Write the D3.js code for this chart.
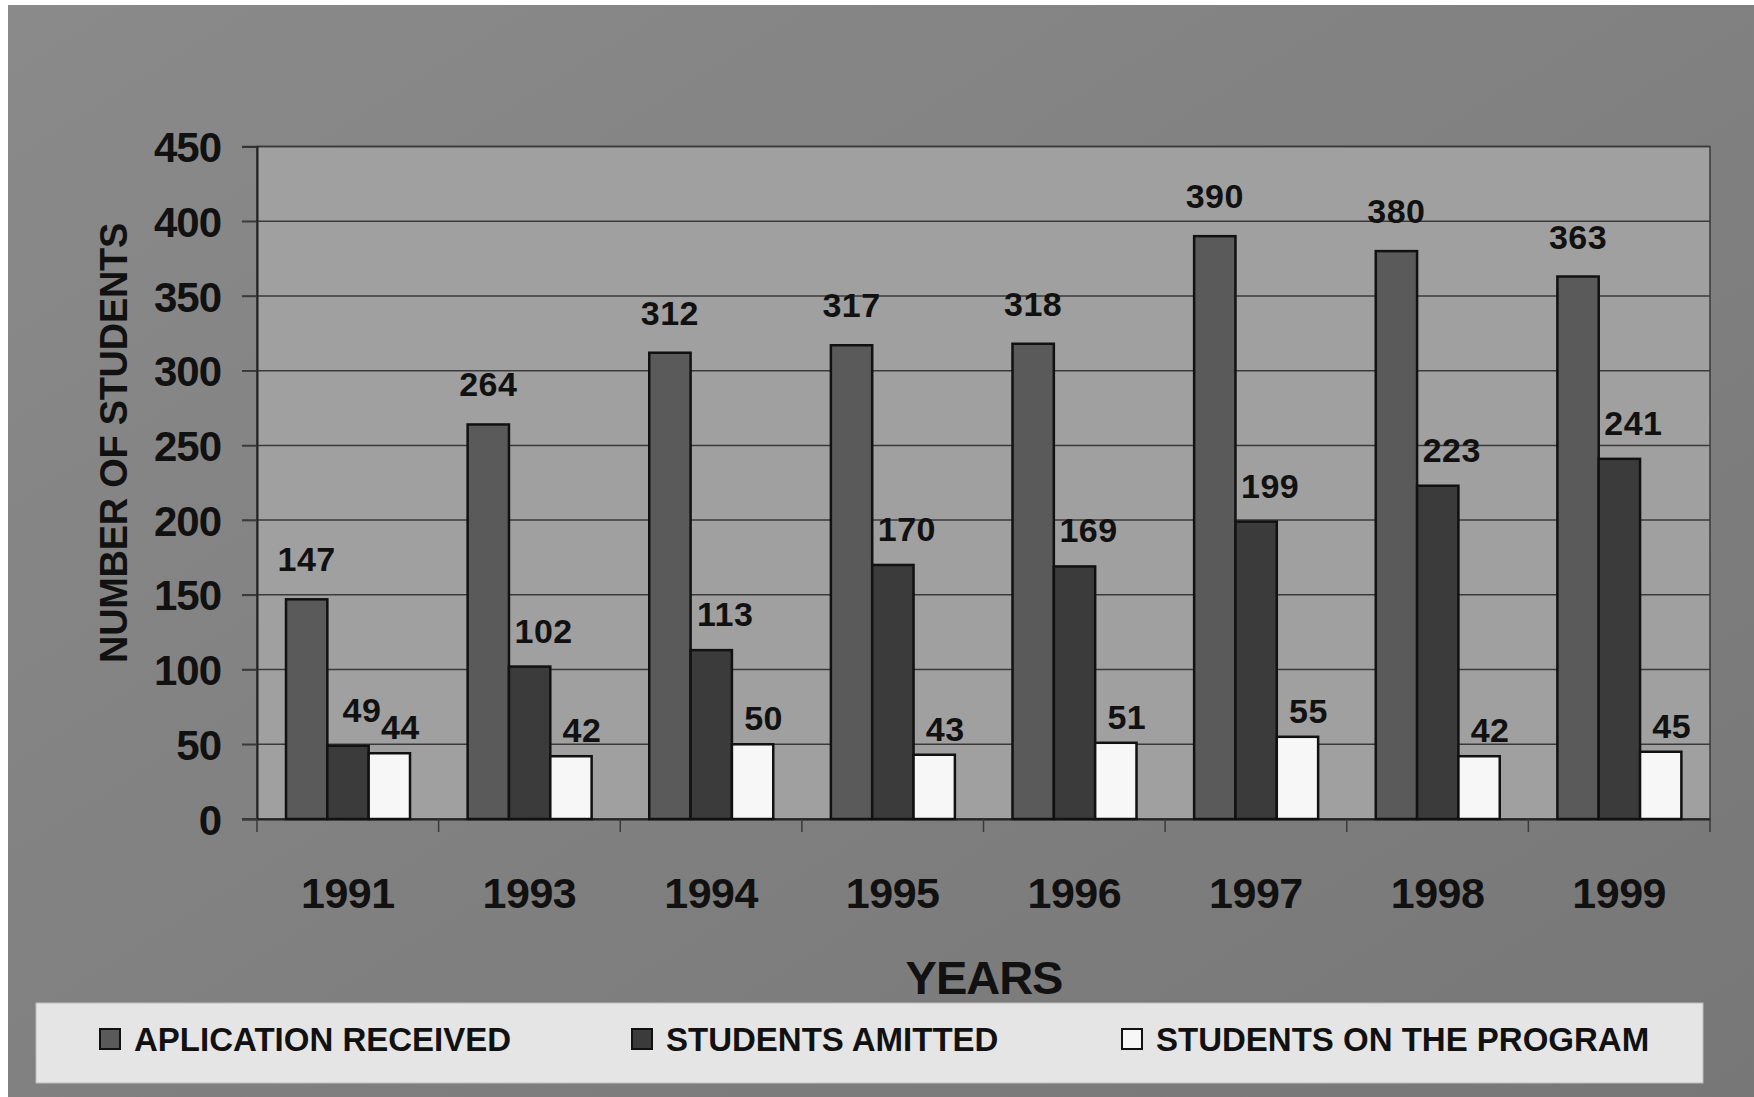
<!DOCTYPE html>
<html>
<head>
<meta charset="utf-8">
<script src="https://cdn.jsdelivr.net/npm/d3@7"></script>
<style>
html,body{margin:0;padding:0;background:#ffffff;}
svg{display:block;}
text{font-family:"Liberation Sans",Arial,sans-serif;font-weight:bold;fill:#111;}
</style>
</head>
<body>
<script>
const years = ["1991","1993","1994","1995","1996","1997","1998","1999"];
const applications = [147,264,312,317,318,390,380,363];
const admitted = [49,102,113,170,169,199,223,241];
const onProgram = [44,42,50,43,51,55,42,45];
const seriesNames = ["APLICATION RECEIVED","STUDENTS AMITTED","STUDENTS ON THE PROGRAM"];
const yTicks = [0,50,100,150,200,250,300,350,400,450];
const xTitle = "YEARS";
const yTitle = "NUMBER OF STUDENTS";

const W = 1754, H = 1097;
const plot = {left:257, right:1710, top:146.5, bottom:819};
const colors = ["#5a5a5a","#3b3b3b","#f7f7f7"];
const labelStyle = [{dx:0,dy:-28},{dx:14,dy:-24},{dx:11,dy:-14}];

const series = [applications, admitted, onProgram];

const svg = d3.select("body").append("svg").attr("width",W).attr("height",H);
const defs = svg.append("defs");
const bg = defs.append("linearGradient").attr("id","bg").attr("x1","0").attr("y1","0").attr("x2","1").attr("y2","1");
bg.append("stop").attr("offset","0").attr("stop-color","#8a8a8a");
bg.append("stop").attr("offset","1").attr("stop-color","#777777");

svg.append("rect").attr("width",W).attr("height",H).attr("fill","#ffffff");
svg.append("rect").attr("x",8).attr("y",5).attr("width",W-8).attr("height",H-5).attr("fill","url(#bg)");

const x0 = d3.scaleBand().domain(years).range([plot.left, plot.right]).padding(0);
const x1 = d3.scaleBand().domain([0,1,2]).range([29, 153]).padding(0);
const y = d3.scaleLinear().domain([0,450]).range([plot.bottom, plot.top]);

// plot area
svg.append("rect").attr("x",plot.left).attr("y",plot.top)
  .attr("width",plot.right-plot.left).attr("height",plot.bottom-plot.top)
  .attr("fill","#a0a0a0").attr("stroke","#3a3a3a").attr("stroke-width",1.5);

// gridlines
svg.append("g").selectAll("line").data(yTicks).join("line")
  .attr("x1",plot.left-15).attr("x2",plot.right)
  .attr("y1",d=>y(d)).attr("y2",d=>y(d))
  .attr("stroke","#3a3a3a").attr("stroke-width",1.5);

// y axis
const yAxis = svg.append("g").attr("transform",`translate(${plot.left},0)`)
  .call(d3.axisLeft(y).tickValues(yTicks).tickSize(15).tickPadding(21));
yAxis.select(".domain").attr("stroke","#222").attr("stroke-width",2);
yAxis.selectAll(".tick line").attr("stroke","#3a3a3a").attr("stroke-width",1.5);
yAxis.selectAll(".tick text").attr("font-size",42).attr("fill","#111")
  .attr("font-family","'Liberation Sans',Arial,sans-serif").attr("font-weight","bold")
  .attr("dy","0.36em").attr("letter-spacing",-1);

// x axis
const xAxis = svg.append("g").attr("transform",`translate(0,${plot.bottom})`)
  .call(d3.axisBottom(x0).tickSize(0).tickPadding(0));
xAxis.select(".domain").attr("stroke","#222").attr("stroke-width",2);
xAxis.selectAll(".tick text").attr("font-size",43).attr("fill","#111")
  .attr("font-family","'Liberation Sans',Arial,sans-serif").attr("font-weight","bold")
  .attr("y",89).attr("dy",0).attr("letter-spacing",-0.5);
// category boundary ticks
const bounds = years.map(d=>x0(d)).concat([plot.right]);
svg.append("g").selectAll("line").data(bounds).join("line")
  .attr("x1",d=>d).attr("x2",d=>d).attr("y1",plot.bottom).attr("y2",plot.bottom+13)
  .attr("stroke","#3a3a3a").attr("stroke-width",1.5);

// bars
const groups = svg.append("g").selectAll("g").data(years).join("g")
  .attr("transform",d=>`translate(${x0(d)},0)`);
groups.selectAll("rect").data((d,i)=>series.map((s,k)=>({k, v:s[i]}))).join("rect")
  .attr("x",d=>x1(d.k)).attr("width",x1.bandwidth())
  .attr("y",d=>y(d.v)).attr("height",d=>y(0)-y(d.v))
  .attr("fill",d=>colors[d.k]).attr("stroke","#111").attr("stroke-width",2.5);
groups.selectAll("text").data((d,i)=>series.map((s,k)=>({k, v:s[i]}))).join("text")
  .attr("x",d=>x1(d.k)+x1.bandwidth()/2+labelStyle[d.k].dx)
  .attr("y",d=>y(d.v)+labelStyle[d.k].dy)
  .attr("text-anchor","middle").attr("font-size",34).attr("letter-spacing",0.5)
  .text(d=>d.v);

// axis titles
svg.append("text").attr("x",984).attr("y",994).attr("text-anchor","middle")
  .attr("font-size",47).attr("letter-spacing",-1).text(xTitle);
svg.append("text").attr("transform","translate(127,443) rotate(-90)").attr("text-anchor","middle")
  .attr("font-size",38).attr("letter-spacing",-0.3).text(yTitle);

// legend
svg.append("rect").attr("x",36).attr("y",1003).attr("width",1667).attr("height",80)
  .attr("fill","#e5e5e5").attr("stroke","#bdbdbd").attr("stroke-width",1);
const legX = [100,632,1122];
const leg = svg.append("g").selectAll("g").data(seriesNames).join("g")
  .attr("transform",(d,i)=>`translate(${legX[i]},1029)`);
leg.append("rect").attr("width",20).attr("height",20)
  .attr("fill",(d,i)=>colors[i]).attr("stroke","#111").attr("stroke-width",2);
leg.append("text").attr("x",34).attr("y",22).attr("font-size",33).attr("letter-spacing",0).text(d=>d);
</script>
</body>
</html>
